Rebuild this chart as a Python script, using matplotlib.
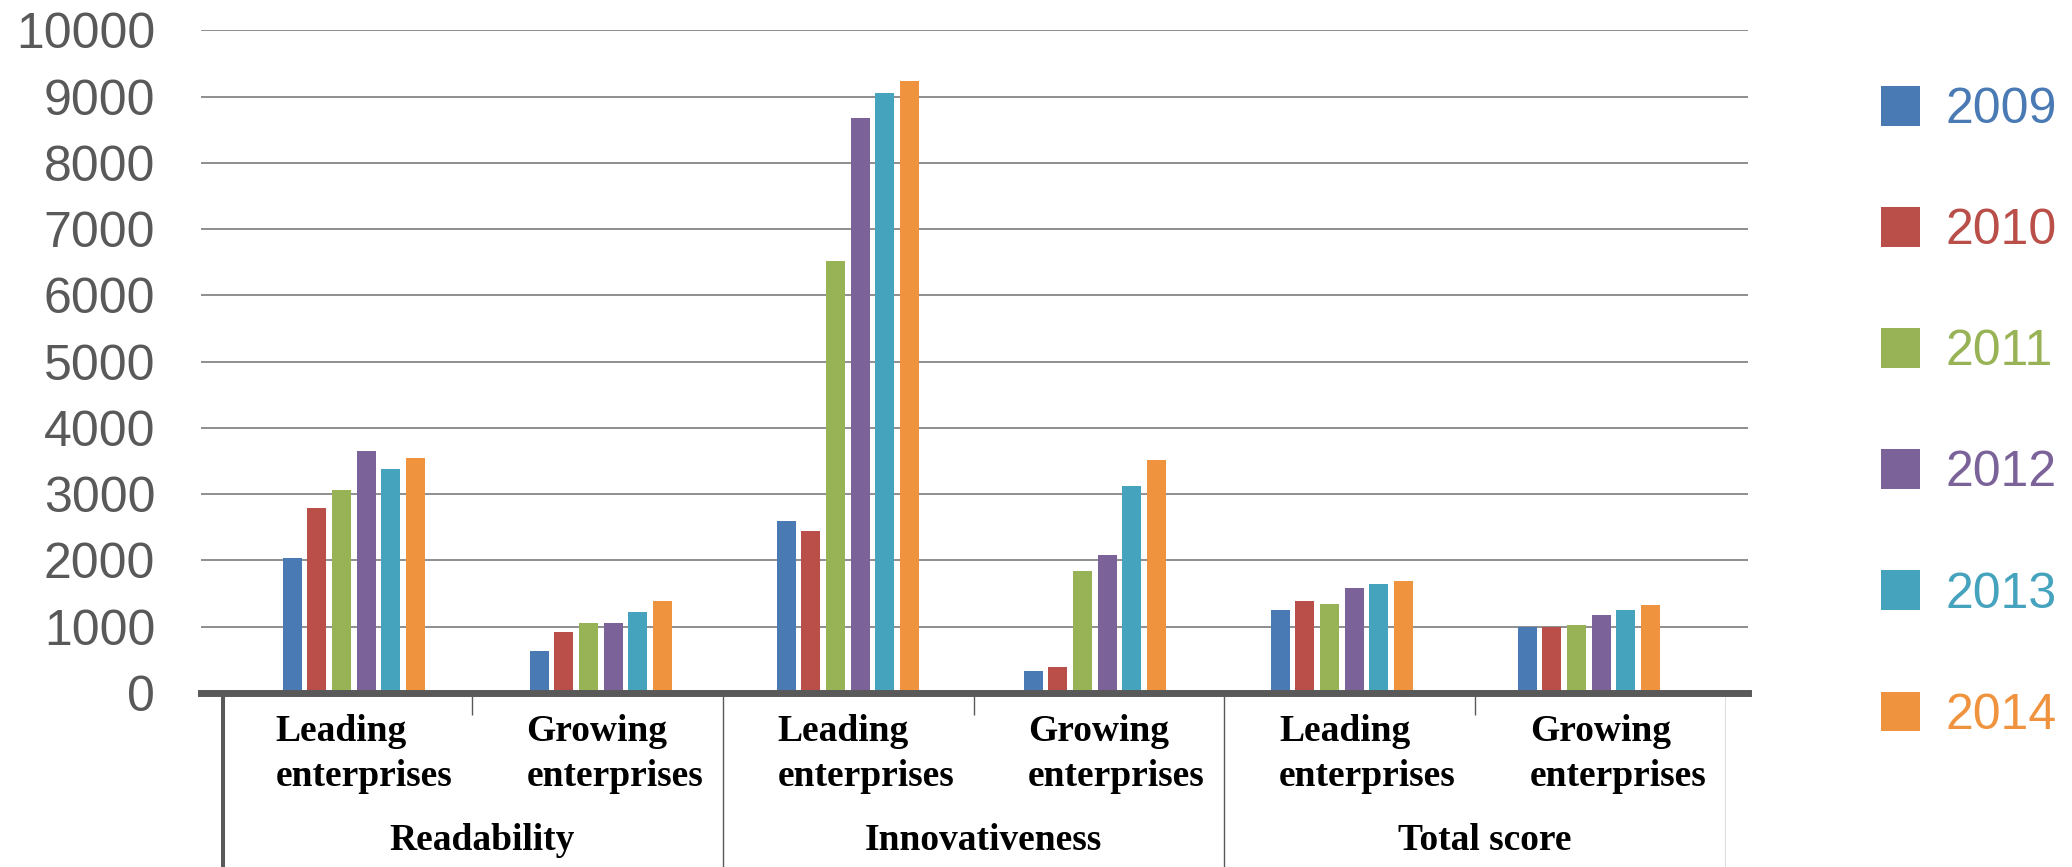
import matplotlib
matplotlib.use("Agg")
import matplotlib.pyplot as plt
import numpy as np

years = ["2009", "2010", "2011", "2012", "2013", "2014"]
sub_labels = ["Leading\nenterprises", "Growing\nenterprises"] * 3
group_labels = ["Readability", "Innovativeness", "Total score"]

v2009 = [2030, 630, 2600, 330, 1250, 1000]
v2010 = [2790, 920, 2440, 390, 1390, 990]
v2011 = [3070, 1050, 6520, 1840, 1350, 1020]
v2012 = [3650, 1050, 8680, 2090, 1590, 1170]
v2013 = [3380, 1220, 9060, 3120, 1650, 1250]
v2014 = [3540, 1390, 9230, 3510, 1690, 1330]
series = [v2009, v2010, v2011, v2012, v2013, v2014]
colors = ["#4A7AB4", "#BA4E48", "#98B356", "#7B6399", "#45A3BE", "#F0933F"]

W, H = 2072, 867
AX0 = 693  # pixel row of the zero line
fig = plt.figure(figsize=(W / 100, H / 100), dpi=100)

# main plot area
ax = fig.add_axes([201 / W, (H - AX0) / H, (1748 - 201) / W, (AX0 - 30.4) / H])
n = len(sub_labels)
x = np.arange(n)
pitch = 0.1
bw = 0.077
bars = []
for j, (vals, c) in enumerate(zip(series, colors)):
    b = ax.bar(x + (j - 2.5) * pitch, vals, width=bw, color=c, label=years[j], zorder=3)
    bars.append(b)
ax.set_xlim(-0.619, 5.644)
ax.set_ylim(0, 10000)
ax.set_yticks(np.arange(0, 10001, 1000))
ax.yaxis.grid(True, color="#868686", linewidth=1.3, zorder=0)
ax.set_xticks([])
for s in ["top", "right", "left"]:
    ax.spines[s].set_visible(False)
ax.spines["bottom"].set_color("#595959")
ax.spines["bottom"].set_linewidth(5.0)
ax.spines["bottom"].set_zorder(4)
ax.tick_params(axis="y", length=0, pad=33, labelsize=36, labelcolor="#595959")
for lab in ax.get_yticklabels():
    lab.set_fontfamily("Liberation Sans")

# category axis area
cax = fig.add_axes([221 / W, 0, (1726 - 221) / W, (H - AX0) / H])
cax.set_xlim(0, 6)
cax.set_ylim(H - AX0, 0)
cax.axis("off")
cax.vlines([0], 0, H - AX0, color="#595959", linewidth=5.8)
cax.vlines([2, 4, 6], 0, H - AX0, color="#595959", linewidth=1.0)
cax.vlines([1, 3, 5], 0, 22, color="#595959", linewidth=1.0)
for i, lab in enumerate(sub_labels):
    cax.text(i + 0.5 + 0.07, 61, lab, ha="center", va="center", multialignment="left",
             fontsize=27, fontweight="bold", family="Liberation Serif", linespacing=1.4)
for k, lab in enumerate(group_labels):
    cax.text(2 * k + 1 + 0.04, 147, lab, ha="center", va="center",
             fontsize=27, fontweight="bold", family="Liberation Serif")

leg = fig.legend(handles=bars, labels=years, loc="upper left",
                 bbox_to_anchor=(1881 / W, 1 - 86 / H), frameon=False,
                 prop={"family": "Liberation Sans", "size": 36},
                 handlelength=0.78, handleheight=0.84, handletextpad=0.5,
                 labelspacing=1.48, borderpad=0, borderaxespad=0)
for t, c in zip(leg.get_texts(), colors):
    t.set_color(c)

fig.savefig("out.png", dpi=100)
